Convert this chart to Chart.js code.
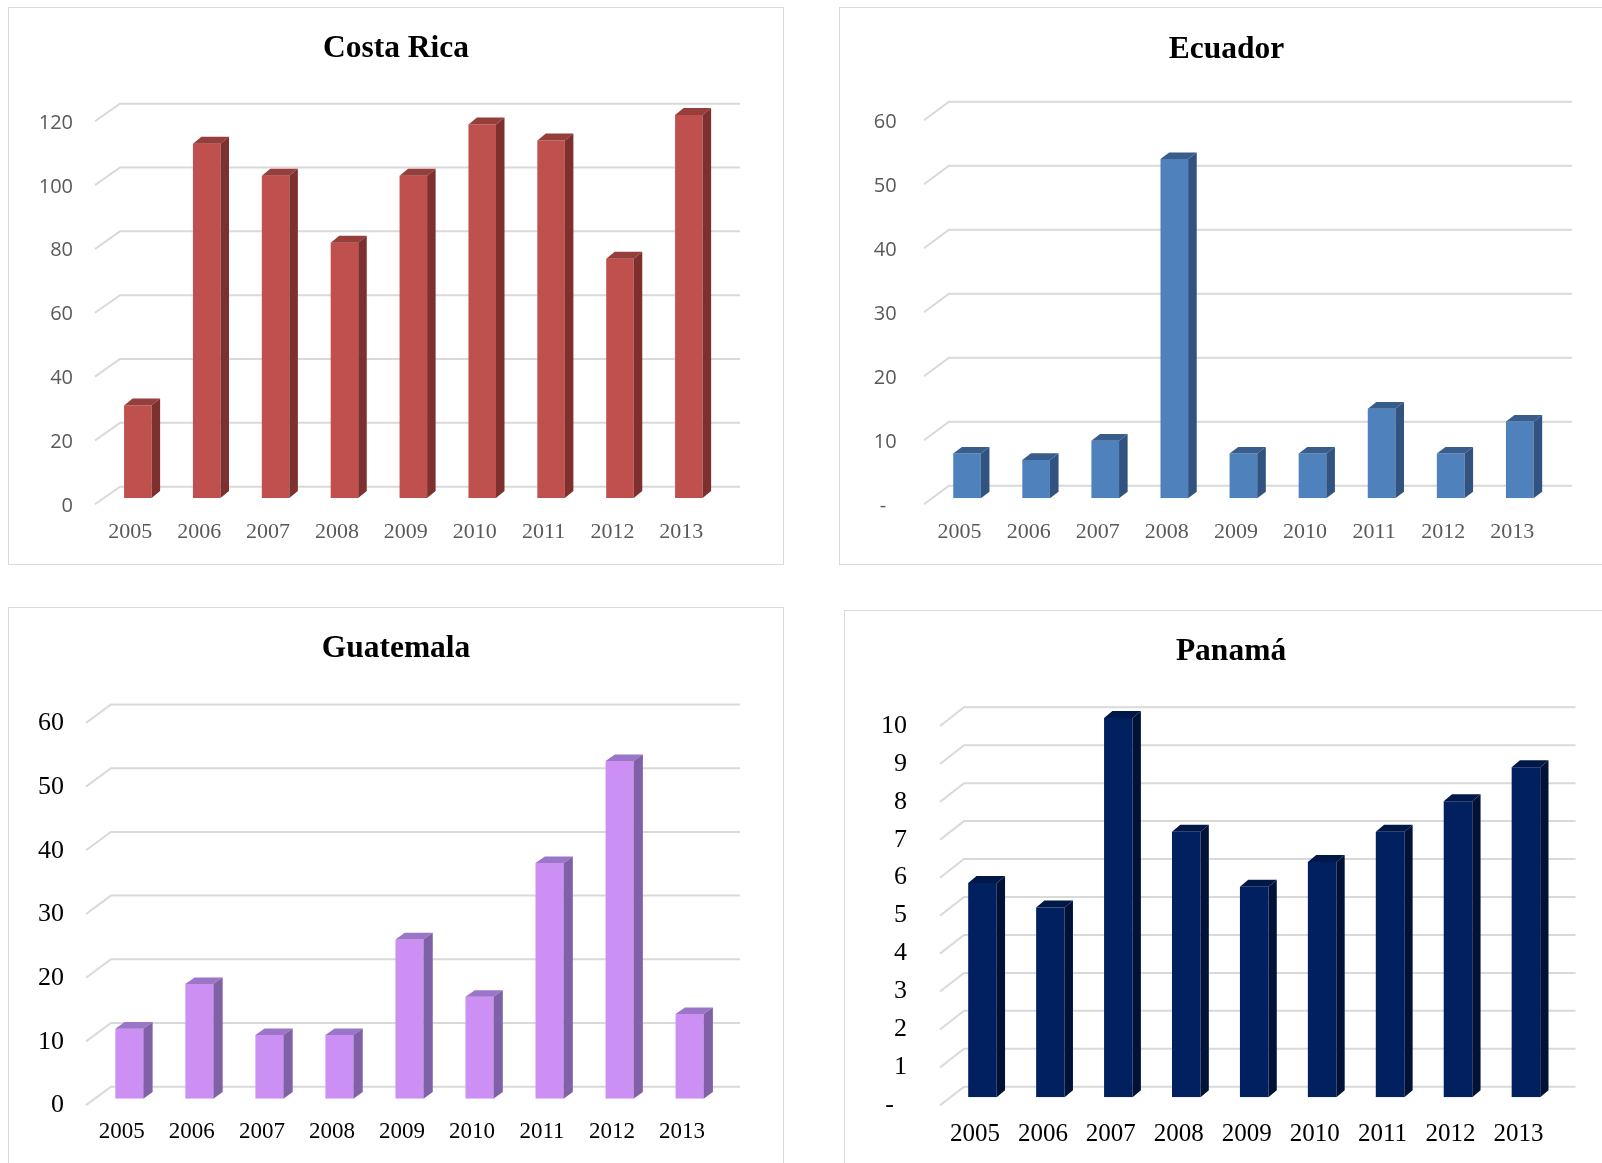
<!DOCTYPE html>
<html lang="es">
<head>
<meta charset="UTF-8">
<title>Costa Rica, Ecuador, Guatemala, Panamá 2005-2013</title>
<script src="https://cdn.jsdelivr.net/npm/chart.js"></script>
<style>
    body {
        margin: 0;
        background: #ffffff;
        overflow: hidden;
        width: 1602px;
        height: 1163px;
        position: relative;
    }
    .panel {
        position: absolute;
        border: 1px solid #d9d9d9;
        background: #ffffff;
    }
    .panel canvas {
        display: block;
    }
</style>
</head>
<body>
    <div class="panel" id="p1"><canvas id="costaRica"></canvas></div>
    <div class="panel" id="p2"><canvas id="ecuador"></canvas></div>
    <div class="panel" id="p3"><canvas id="guatemala"></canvas></div>
    <div class="panel" id="p4"><canvas id="panama"></canvas></div>

<script>
    const years = ['2005', '2006', '2007', '2008', '2009', '2010', '2011', '2012', '2013'];

    const costaRica = [29, 111, 101, 80, 101, 117, 112, 75, 120];
    const ecuador = [7, 6, 9, 53, 7, 7, 14, 7, 12];
    const guatemala = [11, 18, 10, 10, 25, 16, 37, 53, 13.3];
    const panama = [5.65, 5, 10, 7, 5.55, 6.2, 7, 7.8, 8.7];

    const costaRicaTicks = ['0', '20', '40', '60', '80', '100', '120'];
    const ecuadorTicks = ['-  ', '10', '20', '30', '40', '50', '60'];
    const guatemalaTicks = ['0', '10', '20', '30', '40', '50', '60'];
    const panamaTicks = ['-  ', '1', '2', '3', '4', '5', '6', '7', '8', '9', '10'];

    // back wall gridlines + side/top faces of the columns (fake 3D like Excel)
    const depth3d = {
        id: 'depth3d',
        beforeDatasetsDraw(chart, args, o) {
            const { ctx, chartArea: a, scales: { y } } = chart;
            const wl = a.left + o.wallL, wr = a.right + o.wallR;
            ctx.save();
            ctx.strokeStyle = '#d9d9d9';
            ctx.lineWidth = 2;
            y.ticks.forEach(t => {
                const by = y.getPixelForValue(t.value) - o.back;
                ctx.beginPath();
                ctx.moveTo(wl - o.diagX, by + o.diagY);
                ctx.lineTo(wl, by);
                ctx.lineTo(wr, by);
                ctx.stroke();
            });
            ctx.restore();
        },
        afterDatasetsDraw(chart, args, o) {
            const ctx = chart.ctx;
            ctx.save();
            chart.getDatasetMeta(0).data.forEach(bar => {
                const x0 = bar.x - bar.width / 2, x1 = bar.x + bar.width / 2;
                const top = bar.y, base = bar.base;
                ctx.fillStyle = o.top;
                ctx.beginPath();
                ctx.moveTo(x0, top);
                ctx.lineTo(x0 + o.dx, top - o.dy);
                ctx.lineTo(x1 + o.dx, top - o.dy);
                ctx.lineTo(x1, top);
                ctx.closePath();
                ctx.fill();
                ctx.fillStyle = o.side;
                ctx.beginPath();
                ctx.moveTo(x1, top);
                ctx.lineTo(x1 + o.dx, top - o.dy);
                ctx.lineTo(x1 + o.dx, base - o.dy);
                ctx.lineTo(x1, base);
                ctx.closePath();
                ctx.fill();
            });
            ctx.restore();
        }
    };

    // panel = [x, y, w, h] with border, area = [left, top, right, bottom] (page px)
    function makeChart(id, panelId, panel, area, s) {
        const box = document.getElementById(panelId);
        box.style.left = panel[0] + 'px';
        box.style.top = panel[1] + 'px';
        const cw = panel[2] - 2, ch = panel[3] - 2;
        const ox = panel[0] + 1, oy = panel[1] + 1;
        const canvas = document.getElementById(id);
        canvas.width = cw;
        canvas.height = ch;

        const L = area[0] - ox, T = area[1] - oy, R = area[2] - ox, B = area[3] - oy;
        const titleLH = s.titleSize * 1.2;
        const titleTop = s.titleY - oy - titleLH / 2;
        const xPad = s.xLabelY - area[3] - s.xFont * 0.6;

        new Chart(canvas.getContext('2d'), {
            type: 'bar',
            data: {
                labels: years,
                datasets: [{
                    data: s.values,
                    backgroundColor: s.front,
                    borderWidth: 0,
                    barPercentage: s.barPct,
                    categoryPercentage: 1
                }]
            },
            options: {
                responsive: false,
                animation: false,
                layout: { padding: 0 },
                plugins: {
                    legend: { display: false },
                    tooltip: { enabled: false },
                    title: {
                        display: true,
                        text: s.title,
                        color: '#000000',
                        font: { family: 'Liberation Serif', size: s.titleSize, weight: 'bold' },
                        padding: { top: titleTop, bottom: T - titleTop - titleLH }
                    },
                    depth3d: s.depth
                },
                scales: {
                    x: {
                        grid: { display: false, drawTicks: false },
                        border: { display: false },
                        ticks: {
                            color: s.xColor,
                            font: { family: 'Liberation Serif', size: s.xFont },
                            padding: xPad,
                            labelOffset: -7.5,
                            maxRotation: 0,
                            autoSkip: false
                        },
                        afterFit: scale => { scale.height = ch - B; }
                    },
                    y: {
                        min: 0,
                        max: s.max,
                        grid: { display: false, drawTicks: false },
                        border: { display: false },
                        ticks: {
                            stepSize: s.step,
                            color: s.yColor,
                            font: { family: s.yFamily, size: s.yFont },
                            padding: area[0] - s.yLabelRight,
                            labelOffset: s.yShift,
                            callback: (v, i) => s.tickLabels[i]
                        },
                        afterFit: scale => { scale.width = L; }
                    },
                    // empty right box, keeps the plot where it is and the title centred
                    spacer: {
                        type: 'linear',
                        position: 'right',
                        grid: { display: false, drawTicks: false },
                        border: { display: false },
                        ticks: { display: false },
                        afterFit: scale => { scale.width = cw - R; }
                    }
                }
            },
            plugins: [depth3d]
        });
    }

    makeChart('costaRica', 'p1', [8, 7, 776, 558], [103.4, 115, 723.3, 498], {
        title: 'Costa Rica', titleSize: 31.5, titleY: 49,
        values: costaRica, tickLabels: costaRicaTicks, max: 120, step: 20,
        front: '#c0504d', barPct: 0.4,
        xColor: '#595959', xFont: 22, xLabelY: 532.7,
        yColor: '#595959', yFamily: 'Open Sans', yFont: 20, yLabelRight: 73, yShift: 8,
        depth: { back: 11.3, wallL: 16.6, wallR: 16.7, diagX: 25, diagY: 17.6, dx: 8.5, dy: 7, side: '#7d302e', top: '#963e3b' }
    });

    makeChart('ecuador', 'p2', [839, 7, 775, 558], [932.5, 114.3, 1554.3, 498.3], {
        title: 'Ecuador', titleSize: 31.5, titleY: 50,
        values: ecuador, tickLabels: ecuadorTicks, max: 60, step: 10,
        front: '#4f81bd', barPct: 0.4,
        xColor: '#595959', xFont: 22, xLabelY: 532.7,
        yColor: '#595959', yFamily: 'Open Sans', yFont: 20, yLabelRight: 896.7, yShift: 8,
        depth: { back: 12.6, wallL: 16.5, wallR: 17.7, diagX: 25, diagY: 18.6, dx: 8.6, dy: 6.6, side: '#325380', top: '#385d8a' }
    });

    makeChart('guatemala', 'p3', [8, 607, 776, 563], [94.3, 716.5, 724.6, 1098.7], {
        title: 'Guatemala', titleSize: 31.5, titleY: 649,
        values: guatemala, tickLabels: guatemalaTicks, max: 60, step: 10,
        front: '#cc90f5', barPct: 0.4,
        xColor: '#000000', xFont: 23, xLabelY: 1132,
        yColor: '#000000', yFamily: 'Liberation Serif', yFont: 26, yLabelRight: 64, yShift: 6.8,
        depth: { back: 12, wallL: 16.7, wallR: 15.4, diagX: 25, diagY: 18.4, dx: 9.3, dy: 6.6, side: '#8060a6', top: '#9b75c8' }
    });

    makeChart('panama', 'p4', [844, 610, 774, 560], [948.5, 717.9, 1559.9, 1097.3], {
        title: 'Panamá', titleSize: 31.5, titleY: 652,
        values: panama, tickLabels: panamaTicks, max: 10, step: 1,
        front: '#002060', barPct: 0.42,
        xColor: '#000000', xFont: 25, xLabelY: 1134,
        yColor: '#000000', yFamily: 'Liberation Serif', yFont: 26, yLabelRight: 907, yShift: 8,
        depth: { back: 10.6, wallL: 15.5, wallR: 15.6, diagX: 24, diagY: 18.7, dx: 8.3, dy: 7, side: '#001337', top: '#001848' }
    });
</script>
</body>
</html>
